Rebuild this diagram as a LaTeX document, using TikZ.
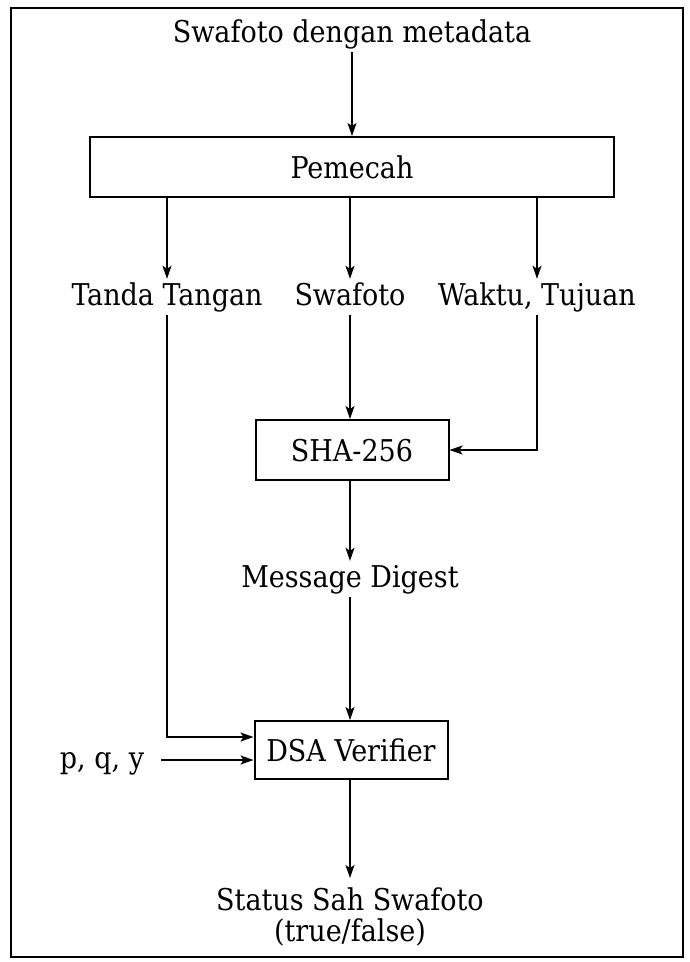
\documentclass[tikz,border=0pt]{standalone}
\usepackage{fontspec}
\setmainfont{DejaVu Serif Condensed}
\usetikzlibrary{arrows.meta}
\begin{document}
\begin{tikzpicture}[x=1pt,y=-1pt,
  lbl/.style={font=\fontsize{30}{31}\selectfont, inner sep=3pt, text height=23pt, text depth=7pt},
  multi/.style={font=\fontsize{30}{31}\selectfont, inner xsep=3pt, inner ysep=9pt, align=center},
  box/.style={draw, line width=2pt, font=\fontsize{30}{31}\selectfont, inner sep=0pt, text height=22pt, text depth=0pt},
  arr/.style={-{Stealth[length=13pt,width=9pt,inset=3pt]}, line width=1.6pt},
  frame/.style={draw, line width=2.5pt}]
\useasboundingbox (0,0) rectangle (689,962);
\draw[frame] (11,8) rectangle (683,957);
\node[lbl, anchor=base] (title) at (352,42) {Swafoto dengan metadata};
\node[box, minimum width=524pt, minimum height=60pt] (pem) at (352,167) {Pemecah};
\node[lbl, anchor=base] (tt) at (167,305) {Tanda Tangan};
\node[lbl, anchor=base] (sw) at (350,305) {Swafoto};
\node[lbl, anchor=base] (wt) at (537,305) {Waktu, Tujuan};
\node[box, minimum width=193pt, minimum height=60pt] (sha) at (352,450) {SHA-256};
\node[lbl, anchor=base] (md) at (350,587) {Message Digest};
\node[box, minimum width=193pt, minimum height=58pt] (dsa) at (351,750) {DSA Verifier};
\node[lbl] (pqy) at (102,760) {p, q, y};
\node[multi, anchor=north] (st) at (350,878) {Status Sah Swafoto\\(true/false)};
\draw[arr] (title) -- (pem);
\draw[arr] (pem.south -| tt) -- (tt.north);
\draw[arr] (pem.south -| sw) -- (sw.north);
\draw[arr] (pem.south -| wt) -- (wt.north);
\draw[arr] (sw.south) -- (sw.south |- sha.north);
\draw[arr] (wt.south) |- (sha.east);
\draw[arr] (sha.south -| md) -- (md.north);
\draw[arr] (md.south) -- (md.south |- dsa.north);
\draw[arr] (tt.south) |- ([yshift=13pt]dsa.west);
\draw[arr] ([xshift=14pt]pqy.east) -- (pqy.east -| dsa.west);
\draw[arr] (dsa.south -| st.north) -- (st.north);
\end{tikzpicture}
\end{document}
